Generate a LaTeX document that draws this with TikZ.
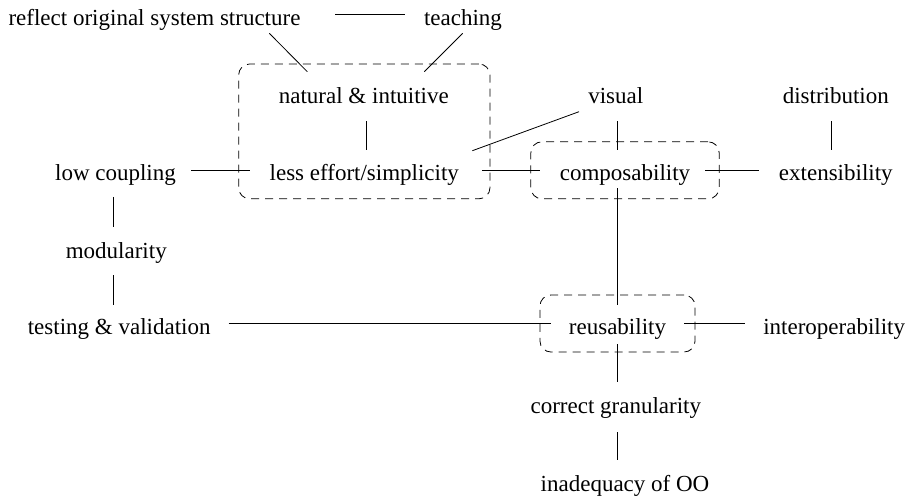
\documentclass[tikz,border=0pt]{standalone}
\usepackage{fontspec}
\setmainfont{Liberation Serif}
\usetikzlibrary{calc,fit}
\begin{document}
\begin{tikzpicture}[x=1pt,y=-1pt,
  term/.style={inner sep=0pt, outer sep=0pt, text height=26pt, text depth=5pt,
    font=\fontsize{23}{28}\selectfont},
  link/.style={draw, line width=0.8pt},
  hlink/.style={link, shorten <=18pt, shorten >=18pt},
  vlink/.style={link, shorten <=13pt, shorten >=5pt},
  groupbox/.style={draw, dash pattern=on 8pt off 6pt, line width=0.8pt,
    rounded corners=11pt, inner xsep=29pt, inner ysep=13pt}]
\useasboundingbox (0,0) rectangle (909,496);

% terms, placed row by row
\node[term] (refl)  at (154.5,14.7)  {reflect original system structure};
\node[term] (teach) at (463,14.7)    {teaching};
\node[term] (nat)   at (363.8,92.5)  {natural \& intuitive};
\node[term] (vis)   at (615.8,92.5)  {visual};
\node[term] (dist)  at (835.8,92.5)  {distribution};
\node[term] (lc)    at (115.5,170.3) {low coupling};
\node[term] (le)    at (364.3,170.3) {less effort/simplicity};
\node[term] (comp)  at (625,170.3)   {composability};
\node[term] (ext)   at (835.8,170.3) {extensibility};
\node[term] (mod)   at (116.3,247.5) {modularity};
\node[term] (test)  at (119.2,323.5) {testing \& validation};
\node[term] (reus)  at (617.5,323.5) {reusability};
\node[term] (inter) at (834.2,323.5) {interoperability};
\node[term] (gran)  at (615.8,402.5) {correct granularity};
\node[term] (inad)  at (625,480.5)   {inadequacy of OO};

% dashed groups
\node[groupbox, inner xsep=31pt, fit=(nat)(le)] (grpA) {};
\node[groupbox, fit=(comp)] (grpB) {};
\node[groupbox, fit=(reus)] (grpC) {};

% columns of the vertical connectors
\coordinate (cNat) at (366,0);
\coordinate (cLeft) at (113.3,0);
\coordinate (cMid) at (617.7,0);
\coordinate (cRight) at (831,0);

% horizontal connectors
\draw[hlink, shorten <=35pt, shorten >=19pt] (refl) -- (teach);
\draw[hlink, shorten <=15.5pt, shorten >=19.5pt] (lc) -- (le);
\draw[hlink, shorten <=23pt, shorten >=19.5pt] (le) -- (comp);
\draw[hlink, shorten <=15pt, shorten >=20pt] (comp) -- (ext);
\draw[hlink] (test) -- (reus);
\draw[hlink] (reus) -- (inter);

% vertical connectors
\draw[vlink] (nat.south -| cNat) -- (le.north -| cNat);
\draw[vlink, shorten <=11pt] (lc.south -| cLeft) -- (mod.north -| cLeft);
\draw[vlink, shorten <=12pt, shorten >=3pt] (mod.south -| cLeft) -- (test.north -| cLeft);
\draw[vlink] (vis.south -| cMid) -- (comp.north -| cMid);
\draw[vlink] (dist.south -| cRight) -- (ext.north -| cRight);
\draw[vlink, shorten <=2.5pt, shorten >=3pt] (comp.south -| cMid) -- (reus.north -| cMid);
\draw[vlink, shorten <=5pt] (reus.south -| cMid) -- (gran.north -| cMid);
\draw[vlink, shorten <=14pt] (gran.south -| cMid) -- (inad.north -| cMid);

% slanted connectors
\draw[link] ($(refl.south)+(114.8,3.1)$) -- ($(nat.north)+(-56.5,-5.3)$);
\draw[link] ($(teach.south)+(-0.3,3.1)$) -- ($(nat.north)+(60.5,-5.3)$);
\draw[link] ($(vis.south)+(-36.8,3.7)$) -- ($(le.north east)+(13.4,-4.1)$);
\end{tikzpicture}
\end{document}
